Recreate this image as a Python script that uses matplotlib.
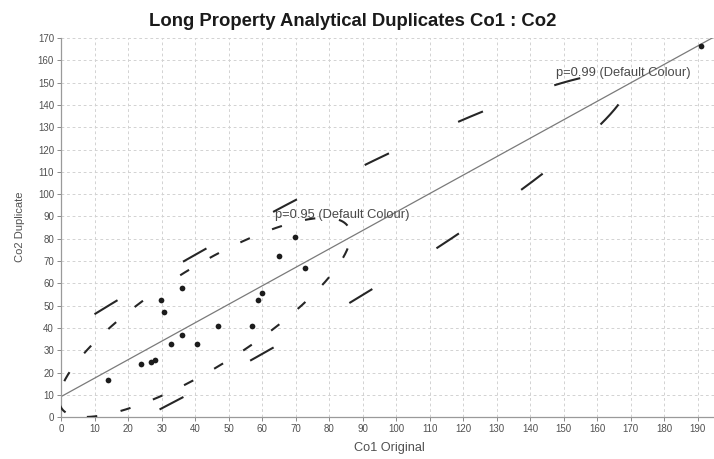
import numpy as np
import matplotlib
matplotlib.use("Agg")
import matplotlib.pyplot as plt

# Duplicate assay pairs: original (Co1) vs duplicate (Co2)
co1 = np.array([14.1, 23.8, 26.9, 28.1, 29.9, 30.8, 32.8, 36.0, 36.0, 40.7,
                46.8, 56.9, 58.9, 59.9, 64.9, 69.9, 72.8, 190.8])
co2 = np.array([16.8, 23.8, 24.7, 25.8, 52.7, 47.0, 33.0, 58.0, 36.9, 33.0,
                40.7, 40.7, 52.7, 55.7, 72.2, 80.9, 66.7, 166.6])

x_ticks = np.arange(0, 191, 10)
y_ticks = np.arange(0, 171, 10)

# Confidence ellipses: probability level, which pairs are used, label text
levels = [0.95, 0.99]
level_subsets = [co1 < 150, np.ones_like(co1, dtype=bool)]
level_labels = ["p=0.95 (Default Colour)", "p=0.99 (Default Colour)"]
label_pos = [(63.8, 89.3), (147.6, 153.0)]

# stroke styling: dash on/off lengths (points) and the parameter-angle
# ranges (degrees) of the separately stroked pieces of each outline
dash_patterns = [(7.5, 17.2), (19.4, 54.7)]
outline_pieces = [[(216.0, 463.0), (475.1, 576.0)],
                  [(259.4, 282.0), (287.2, 616.0)]]

plt.rcParams['font.family'] = ['Liberation Sans', 'DejaVu Sans']
plt.rcParams['lines.scale_dashes'] = False

W, H = 714, 459
fig = plt.figure(figsize=(W / 100, H / 100), dpi=100)
ax = fig.add_axes([61 / W, (H - 417.3) / H, (W - 61) / W, (417.3 - 38) / H])
ax.set_xlim(0, 194.8)
ax.set_ylim(0, 170)


def ellipse_points(x, y, p, t_from, t_to, n=900):
    centre = np.array([x.mean(), y.mean()])
    cov = np.cov(np.vstack([x, y]))
    L = np.linalg.cholesky(cov)
    k = -2.0 * np.log(1.0 - p)  # chi-square quantile, 2 d.o.f.
    t = np.deg2rad(np.linspace(t_from, t_to, n))
    pts = centre[:, None] + np.sqrt(k) * (L @ np.vstack([np.cos(t), np.sin(t)]))
    return pts[0], pts[1]


# grid
ax.set_xticks(x_ticks)
ax.set_yticks(y_ticks)
ax.grid(True, color='#d2d2d2', linestyle=(0, (2, 2)), linewidth=0.7)
ax.set_axisbelow(True)

# regression line through all pairs
slope, intercept = np.polyfit(co1, co2, 1)
xx = np.array([0, 194.8])
ax.plot(xx, intercept + slope * xx, color='#7a7a7a', linewidth=0.9, zorder=2)

# confidence ellipses
for p, sel, lab, pos, dash, pieces in zip(levels, level_subsets, level_labels,
                                          label_pos, dash_patterns, outline_pieces):
    for t_from, t_to in pieces:
        ex, ey = ellipse_points(co1[sel], co2[sel], p, t_from, t_to)
        ax.plot(ex, ey, color='#262626', linewidth=1.5, linestyle=(0, dash),
                dash_capstyle='butt', zorder=3)
    ax.text(pos[0], pos[1], lab, fontsize=9.3, color='#4a4a4a',
            va='baseline', ha='left', zorder=4)

# sample points
ax.scatter(co1, co2, s=17, color='#1c1c1c', zorder=5, linewidths=0)

for side in ('top', 'right'):
    ax.spines[side].set_visible(False)
for side in ('left', 'bottom'):
    ax.spines[side].set_color('#9a9a9a')
    ax.spines[side].set_linewidth(0.9)

ax.tick_params(axis='both', labelsize=7, colors='#8a8a8a', labelcolor='#505050',
               length=3, width=0.7, pad=2)

fig.text(353 / W, (H - 26) / H, "Long Property Analytical Duplicates Co1 : Co2",
         fontsize=13.3, fontweight='bold', color='#1a1a1a', ha='center', va='baseline')
fig.text(389 / W, (H - 448) / H, "Co1 Original", fontsize=9.2, color='#505050',
         ha='center', va='center')
fig.text(20 / W, (H - 227) / H, "Co2 Duplicate", fontsize=8, color='#505050',
         ha='center', va='center', rotation=90)

fig.savefig("out.png", dpi=100)
